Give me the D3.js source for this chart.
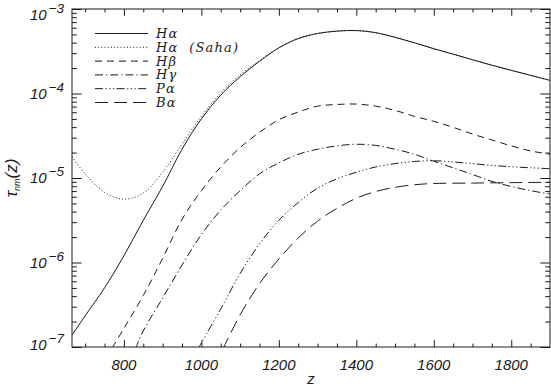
<!DOCTYPE html>
<html><head><meta charset="utf-8">
<script src="https://cdn.jsdelivr.net/npm/d3@7"></script>
<style>
body{margin:0;background:#fff;}
svg{display:block;}
</style></head>
<body>
<svg id="c" width="551" height="388"></svg>
<script>
// ---- data ----
const zHa   = [666,700,750,800,850,900,950,1000,1050,1100,1150,1200,1250,1300,1350,1400,1450,1500,1550,1600,1650,1700,1750,1800,1850,1900];
const valHa = [1.38e-7,2.34e-7,5.01e-7,1.20e-6,3.16e-6,7.94e-6,2.19e-5,5.01e-5,9.55e-5,1.58e-4,2.40e-4,3.47e-4,4.47e-4,5.13e-4,5.47e-4,5.56e-4,5.25e-4,4.62e-4,3.98e-4,3.39e-4,2.92e-4,2.51e-4,2.16e-4,1.88e-4,1.64e-4,1.43e-4];
const zSaha   = [666,700,750,800,850,900,950,1000,1050,1100,1150,1200,1250,1300,1350,1400,1450,1500,1550,1600,1650,1700,1750,1800,1850,1900];
const valSaha = [1.78e-5,1.12e-5,6.76e-6,5.62e-6,6.61e-6,1.17e-5,2.51e-5,5.37e-5,1.02e-4,1.66e-4,2.45e-4,3.47e-4,4.47e-4,5.13e-4,5.47e-4,5.56e-4,5.25e-4,4.62e-4,3.98e-4,3.39e-4,2.92e-4,2.51e-4,2.16e-4,1.88e-4,1.64e-4,1.43e-4];
const zHb   = [770,800,850,900,950,1000,1050,1100,1150,1200,1250,1300,1350,1400,1450,1500,1550,1600,1650,1700,1750,1800,1850,1900];
const valHb = [9.77e-8,1.66e-7,4.07e-7,1.12e-6,3.24e-6,7.08e-6,1.35e-5,2.29e-5,3.47e-5,4.90e-5,6.03e-5,7.08e-5,7.41e-5,7.50e-5,7.08e-5,6.31e-5,5.37e-5,4.68e-5,3.98e-5,3.31e-5,2.82e-5,2.40e-5,2.09e-5,1.91e-5];
const zHg   = [830,850,900,950,1000,1050,1100,1150,1200,1250,1300,1350,1400,1450,1500,1550,1600,1650,1700,1750,1800,1850,1900];
const valHg = [9.55e-8,1.55e-7,3.80e-7,9.33e-7,2.14e-6,4.17e-6,7.08e-6,1.12e-5,1.51e-5,1.91e-5,2.19e-5,2.40e-5,2.51e-5,2.43e-5,2.19e-5,1.91e-5,1.58e-5,1.32e-5,1.10e-5,9.12e-6,7.94e-6,7.08e-6,6.46e-6];
const zPa   = [990,1050,1100,1150,1200,1250,1300,1350,1400,1450,1500,1550,1600,1650,1700,1750,1800,1850,1900];
const valPa = [9.33e-8,2.82e-7,7.41e-7,1.66e-6,3.16e-6,5.13e-6,7.59e-6,9.77e-6,1.17e-5,1.35e-5,1.48e-5,1.57e-5,1.60e-5,1.55e-5,1.48e-5,1.41e-5,1.36e-5,1.32e-5,1.29e-5];
const zBa   = [1055,1100,1150,1200,1250,1300,1350,1400,1450,1500,1550,1600,1700,1800,1900];
const valBa = [9.33e-8,2.40e-7,5.62e-7,1.10e-6,1.95e-6,3.09e-6,4.37e-6,5.75e-6,6.92e-6,7.76e-6,8.32e-6,8.61e-6,8.71e-6,8.81e-6,8.91e-6];

const seriesNames = ["H\u03b1","H\u03b1  (Saha)","H\u03b2","H\u03b3","P\u03b1","B\u03b1"];
const xMajor = [800,1000,1200,1400,1600,1800];
const xMinor = [700,750,850,900,950,1050,1100,1150,1250,1300,1350,1450,1500,1550,1650,1700,1750,1850];
const yDecades = [-7,-6,-5,-4,-3];
const xDomain = [666,1900];
const yDomain = [1e-7,1e-3];

// ---- layout ----
const L=72, R=550, T=9, B=347;
const svg = d3.select("#c");
const x = d3.scaleLinear().domain(xDomain).range([L,R]);
const y = d3.scaleLog().domain(yDomain).range([B,T]);
const ink = "#1a1a1a";
const sans = "Liberation Sans, Arial, sans-serif";

svg.append("defs").append("clipPath").attr("id","clip")
  .append("rect").attr("x",L).attr("y",T).attr("width",R-L).attr("height",B-T);

const series = [
  {z:zHa, v:valHa, dash:null},
  {z:zSaha, v:valSaha, dash:"1,2.2"},
  {z:zHb, v:valHb, dash:"7,5"},
  {z:zHg, v:valHg, dash:"8,3,1.2,3"},
  {z:zPa, v:valPa, dash:"8,2.5,1.2,2.5,1.2,2.5,1.2,2.5"},
  {z:zBa, v:valBa, dash:"13,6"}
];

const line = d3.line().x(d=>x(d[0])).y(d=>y(d[1])).curve(d3.curveCatmullRom.alpha(0.5));
const g = svg.append("g").attr("clip-path","url(#clip)");
series.forEach(s=>{
  g.append("path").datum(s.z.map((z,i)=>[z,s.v[i]]))
   .attr("d",line).attr("fill","none").attr("stroke",ink).attr("stroke-width",1)
   .attr("stroke-dasharray",s.dash);
});

// ---- axes ----
const yMinor = [];
yDecades.slice(0,-1).forEach(e=>{ for(let k=2;k<=9;k++) yMinor.push(k*Math.pow(10,e)); });
const yMajor = yDecades.map(e=>Math.pow(10,e));
const xTL = 6.8, yTL = 9.6;

function axisG(gen, tx, ty){
  const a = svg.append("g").attr("transform",`translate(${tx},${ty})`).call(gen);
  a.select(".domain").remove();
  a.selectAll("line").attr("stroke",ink);
  a.selectAll("text").remove();
  return a;
}
axisG(d3.axisBottom(x).tickValues(xMajor).tickSize(-xTL),0,B);
axisG(d3.axisBottom(x).tickValues(xMinor).tickSize(-xTL/2),0,B);
axisG(d3.axisTop(x).tickValues(xMajor).tickSize(-xTL),0,T);
axisG(d3.axisTop(x).tickValues(xMinor).tickSize(-xTL/2),0,T);
axisG(d3.axisLeft(y).tickValues(yMajor).tickSize(-yTL),L,0);
axisG(d3.axisLeft(y).tickValues(yMinor).tickSize(-yTL/2),L,0);
axisG(d3.axisRight(y).tickValues(yMajor).tickSize(-yTL),R,0);
axisG(d3.axisRight(y).tickValues(yMinor).tickSize(-yTL/2),R,0);

svg.append("rect").attr("x",L).attr("y",T).attr("width",R-L).attr("height",B-T)
  .attr("fill","none").attr("stroke",ink).attr("stroke-width",1);

// x tick labels
svg.append("g").selectAll("text").data(xMajor).join("text")
  .attr("x",d=>x(d)).attr("y",370).attr("text-anchor","middle")
  .attr("font-family",sans).attr("font-style","italic")
  .attr("font-size",15).attr("fill",ink).text(d=>d);

// y tick labels
yDecades.forEach(e=>{
  let yy = y(Math.pow(10,e))+5;
  if(e===-3) yy += 5.5;
  if(e===-7) yy -= 2;
  const t = svg.append("text").attr("x",64).attr("y",yy).attr("text-anchor","end")
    .attr("font-family",sans).attr("font-style","italic")
    .attr("font-size",15).attr("fill",ink);
  t.append("tspan").text("10");
  t.append("tspan").attr("dy",-7).attr("dx",2).attr("font-size",13.5).text("\u2212"+(-e));
});

// axis titles
svg.append("text").attr("x",(L+R)/2).attr("y",384).attr("text-anchor","middle")
  .attr("font-family",sans).attr("font-style","italic")
  .attr("font-size",15).attr("fill",ink).text("z");
const yl = svg.append("text").attr("transform",`translate(17,${(T+B)/2}) rotate(-90)`)
  .attr("text-anchor","middle").attr("font-family",sans)
  .attr("font-style","italic").attr("font-size",17).attr("fill",ink);
yl.append("tspan").text("\u03c4");
yl.append("tspan").attr("dy",3).attr("font-size",9).text("nm");
yl.append("tspan").attr("dy",-3).text("(z)");

// legend
const legY0 = 33.5, legDy = 13.8;
series.forEach((s,i)=>{
  const yy = legY0 + i*legDy;
  svg.append("line").attr("x1",95).attr("x2",148).attr("y1",yy).attr("y2",yy)
    .attr("stroke",ink).attr("stroke-width",1).attr("stroke-dasharray",s.dash);
  svg.append("text").attr("x",156).attr("y",yy+4.5)
    .attr("font-family","DejaVu Serif, Liberation Serif, serif").attr("font-style","italic")
    .attr("font-size",13).attr("letter-spacing",1.2).attr("fill",ink).style("white-space","pre")
    .text(seriesNames[i]);
});
</script>
</body></html>
